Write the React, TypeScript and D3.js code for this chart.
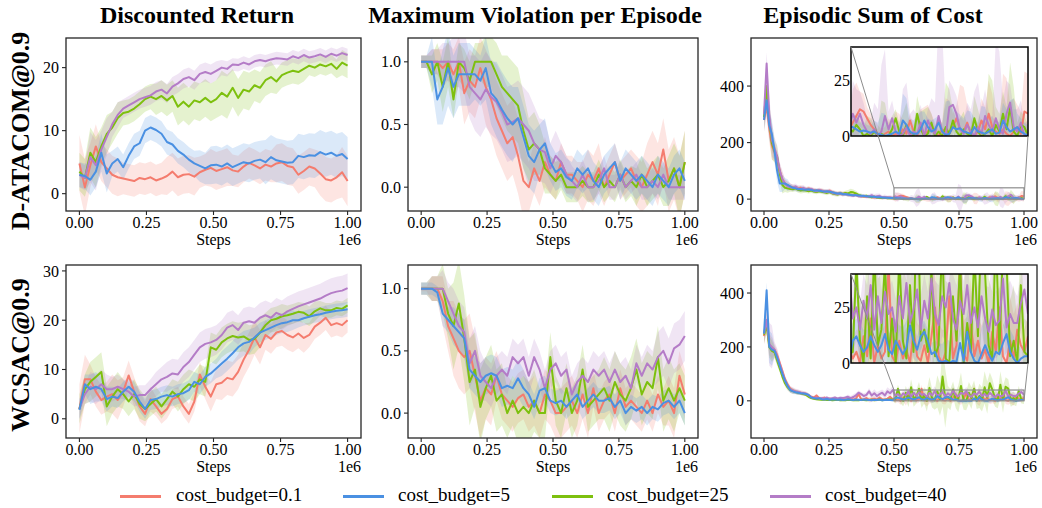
import * as d3 from 'd3'

const W = 1042
const H = 508
const FONT = '"Liberation Serif", "DejaVu Serif", serif'
const AXIS = '#262626'

// red / blue / green / purple, legend order
const COLORS = ['#F47C6E', '#4A90E2', '#7DC00E', '#B47CC7']
const LABELS = ['cost_budget=0.1', 'cost_budget=5', 'cost_budget=25', 'cost_budget=40']
const DRAW_ORDER = [0, 2, 3, 1]
const X_TICKS = [0, 0.25, 0.5, 0.75, 1.0]
const COL_TITLES = ['Discounted Return', 'Maximum Violation per Episode', 'Episodic Sum of Cost']
const ROW_LABELS = ['D-ATACOM@0.9', 'WCSAC@0.9']

// ── D-ATACOM : discounted return ──
const drA_r = [4.8, 1.0, 4.5, 7.5, 5.0, 4.0, 3.0, 2.6, 2.4, 2.2, 2.0, 2.5, 2.3, 2.6, 2.1, 2.4, 2.8, 3.5, 2.6, 3.0, 3.1, 2.7, 3.4, 3.8, 4.1, 3.6, 3.9, 4.2, 3.7, 3.5, 4.3, 4.9, 4.5, 4.0, 4.6, 4.3, 4.8, 5.0, 4.4, 4.2, 3.0, 3.6, 4.3, 4.0, 3.2, 2.3, 2.1, 2.6, 3.4, 2.0]
const drA_b = [3.0, 2.8, 2.2, 3.5, 6.5, 3.2, 4.8, 5.5, 4.2, 6.0, 7.5, 8.0, 10.0, 10.5, 10.1, 9.5, 8.2, 7.8, 6.8, 6.2, 5.4, 4.8, 4.4, 4.0, 4.5, 4.6, 4.3, 4.8, 4.2, 4.6, 5.0, 4.8, 5.2, 5.4, 5.0, 5.8, 5.3, 5.1, 4.9, 5.0, 6.0, 5.8, 6.1, 6.0, 6.6, 6.2, 6.5, 6.0, 6.3, 5.5]
const drA_g = [3.5, 2.5, 6.5, 5.0, 7.5, 9.5, 10.5, 12.0, 12.8, 13.0, 13.5, 14.2, 15.0, 15.4, 15.0, 15.5, 14.8, 15.5, 13.8, 14.6, 13.8, 14.8, 14.5, 15.2, 14.5, 15.0, 16.0, 15.4, 16.8, 15.2, 16.5, 16.2, 17.2, 16.8, 18.0, 18.5, 17.8, 18.8, 19.2, 19.5, 19.3, 19.8, 20.3, 20.0, 20.5, 20.2, 20.6, 19.8, 20.8, 20.3]
const drA_p = [3.0, 2.5, 5.8, 4.5, 7.0, 9.0, 11.0, 12.5, 13.5, 14.0, 14.5, 15.0, 15.3, 15.6, 16.2, 16.5, 15.9, 17.0, 17.5, 18.2, 18.5, 18.0, 19.0, 19.3, 19.0, 19.5, 20.0, 19.8, 20.5, 20.4, 20.8, 20.5, 21.0, 21.2, 21.0, 21.3, 21.5, 21.4, 21.3, 21.8, 21.5, 22.0, 21.6, 21.8, 22.1, 21.7, 22.2, 21.9, 22.3, 22.0]
const drA_rs = [4.5, 3.5, 3, 3, 2.5, 2.5, 2.5, 2.5, 3, 3, 3, 2.5, 3, 3, 2.5, 2.5, 2.5, 2.5, 3, 3, 3, 3, 3.5, 3.5, 4]
const drA_bs = [2, 2.5, 3, 2, 2, 2, 2, 2, 2, 2, 2, 2.5, 3, 3, 3, 3, 3, 3.5, 3.5, 3.5, 3.5, 3.5, 3.5, 3.5, 3.5]
const drA_gs = [3, 4, 3, 2.5, 2, 2, 2, 2.5, 2.5, 3, 3, 3, 3, 3.5, 3, 3, 2.5, 2.5, 2, 2, 2, 1.5, 1.5, 1.5, 2]
const drA_ps = [2, 4, 3, 2, 1.5, 1.5, 1.5, 1.5, 1.5, 1.5, 1.5, 1.5, 1.5, 1.2, 1, 1, 1, 1, 1, 1, 1, 1, 1, 1, 1]

// ── D-ATACOM : maximum violation ──
const mvA_r = [1.0, 1.0, 1.0, 1.0, 0.95, 1.0, 0.9, 1.0, 0.75, 0.85, 0.8, 0.95, 0.8, 0.7, 0.55, 0.45, 0.35, 0.4, 0.25, 0.05, 0.0, 0.15, 0.05, 0.2, 0.1, 0.05, 0.2, 0.1, 0.1, 0.05, 0.0, 0.1, 0.05, 0.15, 0.0, 0.1, 0.2, 0.05, 0.1, 0.15, 0.05, 0.0, 0.1, 0.2, 0.1, 0.3, 0.05, 0.15, 0.0, 0.2]
const mvA_b = [1.0, 1.0, 1.0, 0.7, 0.8, 0.95, 0.8, 0.9, 0.9, 0.9, 0.9, 0.85, 0.95, 0.75, 0.7, 0.62, 0.55, 0.5, 0.55, 0.4, 0.25, 0.2, 0.3, 0.35, 0.2, 0.12, 0.15, 0.08, 0.05, 0.15, 0.1, 0.15, 0.05, 0.0, 0.1, 0.15, 0.2, 0.05, 0.15, 0.1, 0.05, 0.1, 0.05, 0.0, 0.1, 0.05, 0.0, 0.1, 0.15, 0.05]
const mvA_g = [1.0, 1.0, 0.9, 1.0, 0.8, 1.0, 0.7, 1.0, 0.95, 0.85, 1.0, 1.0, 1.0, 1.0, 0.9, 0.8, 0.75, 0.7, 0.65, 0.45, 0.3, 0.35, 0.3, 0.15, 0.1, 0.05, 0.1, 0.0, 0.0, 0.0, 0.05, 0.0, 0.0, 0.1, 0.0, 0.05, 0.0, 0.1, 0.0, 0.05, 0.0, 0.1, 0.0, 0.05, 0.1, 0.0, 0.05, 0.15, 0.0, 0.2]
const mvA_p = [1.0, 1.0, 1.0, 1.0, 1.0, 1.0, 1.0, 1.0, 1.0, 0.8, 0.75, 0.7, 0.78, 0.72, 0.68, 0.6, 0.5, 0.52, 0.55, 0.5, 0.45, 0.35, 0.3, 0.28, 0.15, 0.25, 0.2, 0.1, 0.05, 0.0, 0.1, 0.0, 0.0, 0.05, 0.15, 0.0, 0.0, 0.1, 0.0, 0.05, 0.1, 0.0, 0.0, 0.05, 0.0, 0.1, 0.0, 0.0, 0.0, 0.0]
const mvA_rs = [0.05, 0.1, 0.15, 0.2, 0.25, 0.25, 0.3, 0.3, 0.3, 0.3, 0.2, 0.2, 0.15, 0.15, 0.15, 0.2, 0.2, 0.15, 0.15, 0.15, 0.2, 0.25, 0.25, 0.25, 0.25]
const mvA_bs = [0.05, 0.2, 0.3, 0.25, 0.25, 0.2, 0.25, 0.3, 0.3, 0.25, 0.25, 0.2, 0.15, 0.15, 0.15, 0.15, 0.15, 0.15, 0.15, 0.15, 0.15, 0.15, 0.15, 0.15, 0.15]
const mvA_gs = [0.05, 0.15, 0.2, 0.15, 0.15, 0.15, 0.2, 0.25, 0.3, 0.3, 0.25, 0.2, 0.15, 0.12, 0.12, 0.12, 0.12, 0.12, 0.12, 0.12, 0.15, 0.15, 0.15, 0.2, 0.25]
const mvA_ps = [0.05, 0.1, 0.15, 0.2, 0.25, 0.3, 0.3, 0.3, 0.3, 0.3, 0.3, 0.25, 0.2, 0.15, 0.12, 0.12, 0.1, 0.1, 0.1, 0.1, 0.1, 0.1, 0.1, 0.1, 0.1]

// ── D-ATACOM : episodic cost (100 steps) ──
const scA_r = [280, 330, 250, 190, 165, 140, 100, 70, 55, 48, 45, 42, 40, 38, 40, 36, 35, 38, 34, 32, 30, 32, 30, 28, 27, 30, 25, 22, 20, 22, 18, 20, 17, 15, 14, 15, 12, 10, 9, 8, 8, 7, 6, 7, 5, 5, 4, 6, 4, 3,
  6, 9, 12, 11, 8, 5, 3, 1, 0, 1, 2, 0, 1, 0, 3, 1, 7, 2, 0, 4, 1, 2, 5, 1, 0, 3, 2, 1, 4, 8, 3, 2, 6, 1, 0, 2, 7, 3, 10, 4, 2, 1, 3, 1, 0, 2, 4, 1, 11, 10]
const scA_b = [280, 350, 260, 230, 170, 100, 55, 55, 55, 50, 45, 40, 38, 35, 36, 34, 33, 35, 32, 30, 31, 30, 28, 27, 28, 26, 24, 22, 20, 21, 18, 17, 16, 15, 14, 14, 13, 12, 11, 10, 9, 8, 8, 7, 7, 6, 5, 5, 4, 4,
  4, 3, 2, 2.5, 2, 1.5, 2, 1, 0.5, 0, 0.5, 1, 2, 1, 7, 5, 2, 1, 1, 3, 7, 4, 2, 3, 6, 2, 0.5, 1, 4, 3, 3.5, 2, 1.5, 1, 4, 2, 1.5, 1, 2, 3, 1, 1.5, 7, 4, 2, 3, 4, 2, 1, 0]
const scA_g = [290, 400, 280, 200, 170, 150, 90, 50, 40, 38, 36, 35, 38, 33, 30, 32, 30, 28, 30, 27, 25, 28, 26, 24, 22, 25, 20, 18, 16, 20, 18, 22, 20, 25, 24, 20, 15, 12, 10, 12, 8, 7, 9, 6, 5, 4, 6, 3, 4, 3,
  2, 5, 3, 0, 1, 0, 2, 0, 1, 0, 0, 3, 8, 2, 0, 5, 1, 0, 10, 3, 0, 1, 6, 0, 2, 0, 4, 1, 7, 2, 0, 3, 1, 0, 8, 2, 0, 1, 3, 0, 5, 2, 10, 3, 13, 2, 0, 5, 4, 0]
const scA_p = [300, 480, 300, 210, 180, 150, 100, 70, 55, 45, 42, 40, 45, 38, 36, 40, 35, 33, 36, 30, 28, 32, 30, 26, 25, 28, 22, 20, 18, 20, 16, 18, 15, 14, 12, 15, 10, 9, 12, 8, 10, 14, 8, 10, 12, 6, 8, 5, 7, 4,
  10, 6, 10, 5, 2, 1, 3, 0, 2, 9, 3, 8, 2, 0, 1, 4, 0, 2, 1, 6, 0, 7, 3, 1, 9, 2, 0, 13, 14, 10, 3, 1, 5, 2, 0, 4, 1, 9, 5, 2, 8, 3, 1, 10, 15, 4, 2, 6, 0, 1]
const scA_rs = [40, 50, 30, 25, 15, 10, 10, 10, 8, 8, 8, 8, 8, 8, 8, 8, 7, 6, 6, 5, 5, 5, 5, 5, 5, 15, 8, 5, 4, 3, 6, 10, 4, 3, 8, 12, 5, 3, 15, 6, 20, 8, 4, 10, 15, 5, 25, 15, 10, 18]
const scA_bs = [40, 50, 40, 30, 20, 10, 10, 10, 8, 8, 7, 7, 7, 7, 6, 6, 6, 5, 5, 5, 5, 5, 5, 4, 4, 6, 4, 3, 5, 10, 4, 3, 12, 6, 8, 4, 5, 3, 15, 8, 6, 10, 4, 12, 6, 5, 8, 14, 6, 5]
const scA_gs = [40, 60, 40, 30, 15, 10, 10, 10, 8, 8, 8, 8, 8, 8, 8, 8, 12, 10, 8, 6, 6, 5, 5, 5, 5, 5, 4, 8, 3, 15, 6, 4, 10, 3, 8, 12, 4, 6, 20, 5, 8, 4, 10, 6, 25, 8, 10, 20, 6, 5]
const scA_ps = [40, 60, 40, 30, 15, 12, 10, 10, 8, 8, 8, 8, 8, 8, 7, 7, 7, 6, 6, 6, 8, 10, 8, 8, 8, 15, 10, 6, 12, 30, 8, 6, 20, 10, 8, 5, 14, 45, 12, 8, 6, 10, 20, 12, 6, 35, 15, 8, 10, 6]

// ── WCSAC : discounted return ──
const drW_r = [2.0, 8.0, 8.0, 5.5, 3.8, 4.5, 5.0, 3.8, 5.5, 8.8, 5.5, 2.5, 1.0, 4.0, 2.5, 1.0, 2.0, 4.0, 4.5, 2.5, 1.0, 3.5, 9.0, 6.5, 4.5, 7.0, 7.3, 8.3, 8.0, 9.5, 12.0, 14.0, 16.5, 14.5, 17.0, 16.2, 17.5, 17.8, 17.0, 16.5, 17.3, 16.4, 17.0, 18.7, 19.5, 20.5, 19.0, 19.4, 19.0, 20.0]
const drW_b = [1.8, 7.0, 6.0, 6.5, 6.0, 4.0, 4.5, 4.2, 5.5, 6.5, 5.5, 3.5, 2.0, 3.8, 4.0, 4.5, 4.8, 4.5, 5.0, 5.2, 5.8, 7.5, 7.0, 8.5, 9.2, 10.2, 11.2, 12.2, 13.3, 14.5, 15.3, 15.6, 16.5, 17.5, 18.0, 18.5, 19.0, 19.4, 19.6, 20.0, 20.0, 20.4, 20.7, 21.0, 21.2, 21.5, 21.7, 21.9, 22.0, 22.2]
const drW_g = [2.0, 6.0, 7.5, 8.5, 9.5, 2.5, 4.5, 6.0, 5.0, 3.5, 5.0, 3.0, 2.0, 3.0, 4.0, 2.5, 4.0, 5.5, 4.5, 6.0, 7.0, 6.5, 8.0, 7.5, 14.5, 14.0, 15.5, 16.3, 16.8, 16.5, 16.7, 16.0, 16.2, 17.5, 19.0, 20.0, 20.3, 20.8, 21.0, 21.3, 21.7, 21.5, 20.8, 21.8, 22.4, 22.0, 22.0, 22.5, 22.3, 23.0]
const drW_p = [2.0, 5.0, 6.5, 6.0, 7.0, 6.0, 6.0, 6.5, 6.0, 5.5, 4.5, 4.8, 4.8, 6.0, 7.0, 8.0, 8.5, 9.2, 9.0, 10.5, 11.5, 13.0, 14.5, 15.2, 15.5, 16.0, 17.0, 18.5, 19.0, 18.0, 19.5, 19.8, 19.5, 20.5, 21.0, 20.5, 21.5, 21.0, 21.8, 22.3, 22.8, 23.2, 23.6, 24.0, 24.4, 25.0, 25.5, 25.8, 26.0, 26.5]
const drW_rs = [5, 3, 3, 4, 3, 3, 2.5, 2, 2, 2, 2, 2.5, 3, 3.5, 3.5, 3.5, 3.5, 3, 3, 3, 3, 2.5, 2.5, 2.5, 2.5]
const drW_bs = [2, 3, 2.5, 2, 2, 2, 2, 2, 2, 2, 2, 2, 2, 2.5, 2.5, 2.5, 2, 2, 2, 2, 1.5, 1.5, 1.5, 1.5, 1.5]
const drW_gs = [3, 4, 4, 3.5, 3, 3, 2.5, 2.5, 2.5, 3, 3, 3, 3, 3, 3, 3, 3, 2.5, 2.5, 2, 2, 2, 1.5, 1.5, 1.5]
const drW_ps = [2, 3, 3, 2.5, 2, 2, 2, 2.5, 3, 3, 3, 3, 3, 3, 3, 3, 3, 3, 3, 3, 3, 3, 3, 3, 3]

// ── WCSAC : maximum violation ──
const mvW_r = [1.0, 1.0, 1.0, 1.0, 0.9, 0.7, 0.6, 0.5, 0.45, 0.5, 0.3, 0.1, 0.2, 0.15, 0.3, 0.15, 0.1, 0.05, 0.12, 0.15, 0.05, 0.1, 0.0, 0.15, 0.1, 0.0, 0.0, 0.05, 0.1, 0.0, 0.15, 0.0, 0.2, 0.0, 0.1, 0.15, 0.0, 0.2, 0.05, 0.1, 0.05, 0.0, 0.1, 0.0, 0.15, 0.05, 0.1, 0.0, 0.3, 0.15]
const mvW_b = [1.0, 1.0, 1.0, 0.97, 0.8, 0.75, 0.7, 0.65, 0.6, 0.35, 0.3, 0.25, 0.3, 0.32, 0.3, 0.2, 0.22, 0.2, 0.28, 0.2, 0.15, 0.05, 0.18, 0.2, 0.1, 0.08, 0.1, 0.05, 0.1, 0.15, 0.05, 0.1, 0.15, 0.1, 0.1, 0.12, 0.05, 0.1, 0.0, 0.05, 0.02, 0.05, 0.0, 0.05, 0.03, 0.08, 0.1, 0.05, 0.1, 0.0]
const mvW_g = [1.0, 1.0, 1.0, 1.0, 1.0, 0.8, 0.7, 0.88, 0.6, 0.25, 0.35, 0.05, 0.2, 0.3, 0.1, 0.15, 0.0, 0.1, 0.0, 0.05, 0.0, 0.1, 0.0, 0.0, 0.45, 0.1, 0.0, 0.2, 0.0, 0.1, 0.35, 0.05, 0.1, 0.15, 0.2, 0.1, 0.25, 0.15, 0.1, 0.2, 0.35, 0.15, 0.25, 0.2, 0.45, 0.1, 0.2, 0.1, 0.2, 0.1]
const mvW_p = [1.0, 1.0, 1.0, 1.0, 1.0, 0.9, 0.8, 0.7, 0.65, 0.4, 0.5, 0.3, 0.25, 0.2, 0.3, 0.35, 0.3, 0.45, 0.4, 0.45, 0.3, 0.45, 0.35, 0.2, 0.35, 0.4, 0.3, 0.35, 0.15, 0.25, 0.3, 0.25, 0.35, 0.3, 0.35, 0.25, 0.35, 0.25, 0.3, 0.2, 0.4, 0.3, 0.4, 0.35, 0.45, 0.5, 0.4, 0.52, 0.55, 0.62]
const mvW_rs = [0.02, 0.1, 0.2, 0.3, 0.3, 0.3, 0.25, 0.2, 0.2, 0.2, 0.2, 0.2, 0.2, 0.2, 0.2, 0.2, 0.15, 0.15, 0.15, 0.15, 0.15, 0.15, 0.15, 0.2, 0.2]
const mvW_bs = [0.05, 0.05, 0.1, 0.15, 0.15, 0.15, 0.15, 0.15, 0.15, 0.15, 0.1, 0.1, 0.1, 0.1, 0.1, 0.1, 0.1, 0.1, 0.1, 0.1, 0.1, 0.1, 0.1, 0.1, 0.1]
const mvW_gs = [0.05, 0.1, 0.2, 0.35, 0.35, 0.3, 0.25, 0.25, 0.2, 0.25, 0.25, 0.2, 0.2, 0.2, 0.2, 0.2, 0.2, 0.25, 0.25, 0.25, 0.25, 0.25, 0.25, 0.25, 0.2]
const mvW_ps = [0.05, 0.1, 0.15, 0.2, 0.2, 0.2, 0.15, 0.15, 0.15, 0.15, 0.15, 0.15, 0.15, 0.15, 0.15, 0.15, 0.15, 0.15, 0.15, 0.15, 0.15, 0.15, 0.2, 0.2, 0.2]

// ── WCSAC : episodic cost (100 steps) ──
const scW_r = [240, 300, 210, 195, 190, 170, 140, 110, 80, 60, 45, 38, 35, 32, 30, 28, 26, 20, 15, 12, 20, 10, 8, 12, 6, 8, 5, 10, 6, 4, 8, 5, 6, 10, 4, 8, 25, 6, 5, 10, 4, 6, 8, 5, 12, 6, 4, 8, 15, 6,
  2, 5, 0, 12, 3, 20, 0, 8, 2, 5, 45, 3, 0, 10, 2, 6, 0, 15, 3, 1, 8, 0, 12, 25, 3, 0, 5, 30, 2, 8, 45, 4, 1, 18, 3, 10, 2, 6, 0, 14, 5, 25, 3, 0, 10, 2, 15, 8, 5, 12]
const scW_b = [250, 410, 200, 190, 185, 160, 130, 100, 75, 55, 40, 35, 32, 30, 28, 27, 25, 22, 12, 10, 8, 10, 6, 5, 7, 4, 6, 5, 4, 5, 3, 4, 6, 4, 3, 5, 4, 3, 5, 4, 3, 2, 4, 3, 5, 2, 3, 4, 3, 2,
  10, 12, 8, 5, 7, 12, 8, 5, 8, 13, 6, 4, 10, 7, 4, 7, 17, 10, 6, 12, 14, 10, 4, 5, 1, 0.5, 1, 0, 1, 0.5, 9, 1, 14, 5, 1, 0, 4, 8, 4, 1, 5, 4, 9, 13, 5, 2, 0, 2, 3, 3]
const scW_g = [245, 280, 200, 185, 180, 150, 120, 90, 65, 50, 40, 36, 33, 30, 28, 25, 22, 15, 10, 8, 6, 5, 4, 5, 3, 4, 2, 3, 4, 2, 3, 2, 4, 3, 2, 3, 2, 4, 3, 2, 3, 4, 2, 3, 5, 2, 4, 3, 6, 4,
  5, 45, 10, 0, 30, 2, 50, 8, 15, 45, 3, 20, 0, 48, 10, 2, 35, 5, 90, 10, 15, 5, 42, 3, 8, 55, 2, 0, 30, 10, 45, 0, 18, 5, 50, 12, 65, 40, 8, 2, 60, 5, 52, 45, 3, 10, 0, 35, 5, 3]
const scW_p = [250, 300, 210, 200, 190, 165, 135, 105, 75, 55, 42, 38, 35, 33, 30, 28, 26, 20, 14, 10, 12, 8, 10, 9, 12, 8, 10, 12, 9, 11, 10, 12, 15, 10, 14, 20, 30, 25, 18, 22, 35, 20, 28, 18, 25, 30, 20, 35, 28, 40,
  20, 25, 15, 28, 20, 35, 15, 30, 18, 32, 22, 25, 14, 30, 20, 36, 18, 24, 33, 15, 28, 20, 38, 22, 17, 30, 25, 36, 20, 15, 28, 22, 35, 18, 25, 16, 30, 20, 14, 24, 17, 19, 38, 16, 22, 18, 18, 27, 33, 22]
const scW_rs = [30, 40, 20, 15, 12, 10, 8, 8, 8, 6, 6, 6, 5, 5, 5, 5, 6, 6, 8, 6, 10, 8, 6, 5, 5, 10, 15, 20, 10, 12, 15, 20, 10, 12, 15, 10, 20, 15, 10, 12, 15, 20, 10, 15, 12, 10, 15, 20, 12, 10]
const scW_bs = [30, 60, 20, 15, 12, 10, 8, 6, 6, 5, 5, 5, 4, 4, 4, 4, 4, 4, 4, 4, 4, 4, 4, 4, 4, 8, 10, 8, 10, 12, 8, 10, 12, 8, 6, 5, 5, 8, 10, 6, 8, 10, 8, 12, 8, 6, 8, 10, 6, 5]
const scW_gs = [30, 40, 20, 15, 12, 10, 8, 6, 6, 5, 5, 5, 4, 4, 4, 4, 4, 4, 4, 4, 4, 4, 4, 4, 4, 15, 20, 25, 30, 25, 30, 40, 35, 60, 110, 40, 30, 50, 35, 40, 30, 45, 60, 40, 30, 50, 35, 25, 20, 15]
const scW_ps = [40, 80, 30, 20, 15, 12, 10, 8, 8, 6, 6, 6, 5, 5, 5, 6, 8, 10, 8, 10, 12, 15, 12, 15, 15, 15, 12, 15, 18, 15, 12, 15, 18, 20, 15, 12, 15, 18, 15, 20, 15, 12, 18, 15, 20, 15, 18, 15, 12, 15]

type Series = { mean: number[]; spread: number[] }
type PanelCfg = {
  yDomain: [number, number]
  yTicks: number[]
  fmt: (v: number) => string
  series: Series[]
  inset?: boolean
}

const ser = (m: number[][], s: number[][]): Series[] => m.map((mean, i) => ({ mean, spread: s[i] }))
const fInt = d3.format('d')
const f1 = d3.format('.1f')

const PANELS: PanelCfg[][] = [
  [
    { yDomain: [-2.75, 24.7], yTicks: [0, 10, 20], fmt: fInt, series: ser([drA_r, drA_b, drA_g, drA_p], [drA_rs, drA_bs, drA_gs, drA_ps]) },
    { yDomain: [-0.19, 1.19], yTicks: [0, 0.5, 1], fmt: f1, series: ser([mvA_r, mvA_b, mvA_g, mvA_p], [mvA_rs, mvA_bs, mvA_gs, mvA_ps]) },
    { yDomain: [-42, 570], yTicks: [0, 200, 400], fmt: fInt, series: ser([scA_r, scA_b, scA_g, scA_p], [scA_rs, scA_bs, scA_gs, scA_ps]), inset: true },
  ],
  [
    { yDomain: [-3.9, 31.2], yTicks: [0, 10, 20, 30], fmt: fInt, series: ser([drW_r, drW_b, drW_g, drW_p], [drW_rs, drW_bs, drW_gs, drW_ps]) },
    { yDomain: [-0.2, 1.19], yTicks: [0, 0.5, 1], fmt: f1, series: ser([mvW_r, mvW_b, mvW_g, mvW_p], [mvW_rs, mvW_bs, mvW_gs, mvW_ps]) },
    { yDomain: [-138, 504], yTicks: [0, 200, 400], fmt: fInt, series: ser([scW_r, scW_b, scW_g, scW_p], [scW_rs, scW_bs, scW_gs, scW_ps]), inset: true },
  ],
]

const COL_X: [number, number][] = [[66, 361], [408, 698], [751, 1037]]
const ROW_Y: [number, number][] = [[38, 211], [265, 438]]
const TITLE_X = [197, 535, 873]
const ROW_LABEL_Y = [131, 355]
const INSET_X: [number, number] = [851, 1028]
const INSET_Y: [number, number][] = [[47, 136], [274, 363]]

type Pt = { t: number; m: number; s: number }
const toPts = (s: Series): Pt[] =>
  s.mean.map((m, i) => ({
    t: i / (s.mean.length - 1),
    m,
    s: s.spread[Math.floor((i * s.spread.length) / s.mean.length)],
  }))

function Marks({ series, x, y }: { series: Series[]; x: d3.ScaleLinear<number, number>; y: d3.ScaleLinear<number, number> }) {
  const area = d3.area<Pt>().x((d) => x(d.t)).y0((d) => y(d.m - d.s)).y1((d) => y(d.m + d.s))
  const line = d3.line<Pt>().x((d) => x(d.t)).y((d) => y(d.m))
  const pts = series.map(toPts)
  return (
    <>
      {DRAW_ORDER.map((k) => (
        <path key={'a' + k} d={area(pts[k]) ?? ''} fill={COLORS[k]} fillOpacity={0.2} stroke="none" />
      ))}
      {DRAW_ORDER.map((k) => (
        <path key={'l' + k} d={line(pts[k]) ?? ''} fill="none" stroke={COLORS[k]} strokeWidth={2} strokeLinejoin="round" />
      ))}
    </>
  )
}

function Inset({ cfg, row, x, y }: { cfg: PanelCfg; row: number; x: d3.ScaleLinear<number, number>; y: d3.ScaleLinear<number, number> }) {
  const [ix0, ix1] = INSET_X
  const [iy0, iy1] = INSET_Y[row]
  const ix = d3.scaleLinear().domain([0.5, 1.0]).range([ix0, ix1])
  const iy = d3.scaleLinear().domain([0, 40]).range([iy1, iy0])
  const id = `inset-clip-${row}`
  const rx0 = x(0.5), rx1 = x(1.0), ry0 = y(40), ry1 = y(0)
  return (
    <g>
      <rect x={rx0} y={ry0} width={rx1 - rx0} height={ry1 - ry0} fill="none" stroke="#8c8c8c" strokeWidth={1.2} />
      <rect x={ix0} y={iy0} width={ix1 - ix0} height={iy1 - iy0} fill="#fff" />
      <defs>
        <clipPath id={id}>
          <rect x={ix0} y={iy0} width={ix1 - ix0} height={iy1 - iy0} />
        </clipPath>
      </defs>
      <g clipPath={`url(#${id})`}>
        <Marks series={cfg.series} x={ix} y={iy} />
      </g>
      <rect x={ix0} y={iy0} width={ix1 - ix0} height={iy1 - iy0} fill="none" stroke="#000" strokeWidth={1.5} />
      <line x1={ix0} y1={iy0} x2={rx0} y2={ry0} stroke="#8c8c8c" strokeWidth={1} />
      <line x1={ix1} y1={iy1} x2={rx1} y2={ry1} stroke="#8c8c8c" strokeWidth={1} />
      {[0, 25].map((v) => (
        <text key={v} x={ix0 - 1} y={iy(v)} dy="0.35em" textAnchor="end" fontSize={16} fill="#000">
          {v}
        </text>
      ))}
    </g>
  )
}

function Panel({ cfg, row, col }: { cfg: PanelCfg; row: number; col: number }) {
  const [x0, x1] = COL_X[col]
  const [y0, y1] = ROW_Y[row]
  const x = d3.scaleLinear().domain([-0.05, 1.05]).range([x0, x1])
  const y = d3.scaleLinear().domain(cfg.yDomain).range([y1, y0])
  const id = `clip-${row}-${col}`
  return (
    <g>
      <defs>
        <clipPath id={id}>
          <rect x={x0} y={y0} width={x1 - x0} height={y1 - y0} />
        </clipPath>
      </defs>
      <g clipPath={`url(#${id})`}>
        <Marks series={cfg.series} x={x} y={y} />
      </g>
      {cfg.inset && <Inset cfg={cfg} row={row} x={x} y={y} />}
      <rect x={x0} y={y0} width={x1 - x0} height={y1 - y0} fill="none" stroke={AXIS} strokeWidth={1.3} />
      {X_TICKS.map((t) => (
        <g key={t}>
          <line x1={x(t)} x2={x(t)} y1={y1} y2={y1 + 4} stroke={AXIS} strokeWidth={1.1} />
          <text x={x(t)} y={y1 + 17} textAnchor="middle" fontSize={16} fill="#000">
            {d3.format('.2f')(t)}
          </text>
        </g>
      ))}
      {cfg.yTicks.map((t) => (
        <g key={t}>
          <line x1={x0 - 4} x2={x0} y1={y(t)} y2={y(t)} stroke={AXIS} strokeWidth={1.1} />
          <text x={x0 - 7} y={y(t)} dy="0.35em" textAnchor="end" fontSize={16} fill="#000">
            {cfg.fmt(t)}
          </text>
        </g>
      ))}
      <text x={(x0 + x1) / 2} y={y1 + 34} textAnchor="middle" fontSize={16} fill="#000">Steps</text>
      <text x={x1} y={y1 + 34} textAnchor="end" fontSize={16} fill="#000">1e6</text>
    </g>
  )
}

const LEG_LINE_X = [120, 343, 552, 770]
const LEG_TEXT_X = [176, 398, 607, 825]

export default function App() {
  return (
    <svg width={W} height={H} viewBox={`0 0 ${W} ${H}`} style={{ position: 'absolute', left: 0, top: 0, background: '#fff' }} fontFamily={FONT}>
      <rect width={W} height={H} fill="#fff" />
      {COL_TITLES.map((t, i) => (
        <text key={t} x={TITLE_X[i]} y={23} textAnchor="middle" fontSize={24} fontWeight="bold" fill="#000">{t}</text>
      ))}
      {ROW_LABELS.map((t, i) => (
        <text key={t} transform={`translate(29,${ROW_LABEL_Y[i]}) rotate(-90)`} textAnchor="middle" fontSize={26} fontWeight="bold" fill="#000">{t}</text>
      ))}
      {PANELS.map((r, ri) => r.map((cfg, ci) => <Panel key={`${ri}-${ci}`} cfg={cfg} row={ri} col={ci} />))}
      {LABELS.map((l, i) => (
        <g key={l}>
          <line x1={LEG_LINE_X[i]} x2={LEG_LINE_X[i] + 41} y1={496.5} y2={496.5} stroke={COLORS[i]} strokeWidth={3} />
          <text x={LEG_TEXT_X[i]} y={501} fontSize={19} fill="#000">{l}</text>
        </g>
      ))}
    </svg>
  )
}
